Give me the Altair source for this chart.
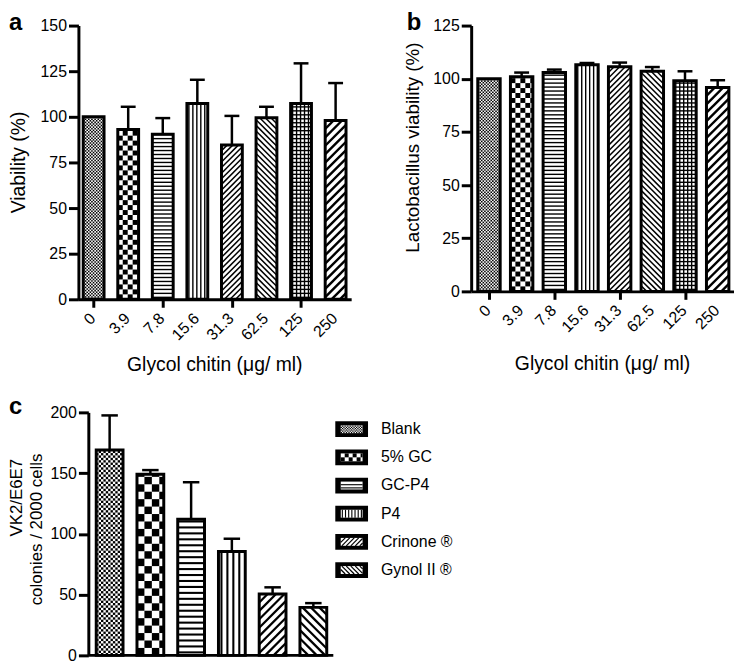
import math
import altair as alt
import pandas as pd
import numpy as np

# ---------------- data ----------------
conc_labels = ["0", "3.9", "7.8", "15.6", "31.3", "62.5", "125", "250"]
viab_mean = [100, 93, 90.5, 107.3, 84.5, 99.5, 107.3, 98]
viab_err = [0, 12.5, 8.8, 13, 16, 6, 22, 20.5]
lacto_mean = [100, 100.9, 102.9, 106.6, 105.6, 103.5, 99, 95.9]
lacto_err = [0, 2.0, 1.4, 0.8, 2.0, 2.0, 4.5, 3.4]
form_labels = ["Blank", "5% GC", "GC-P4", "P4", "Crinone \u00ae", "Gynol II \u00ae"]
colony_mean = [169, 149, 112, 85.5, 50.5, 39.5]
colony_err = [28.5, 3.5, 30.5, 10.5, 5.5, 3.5]

kinds_ab = ["fine", "checker", "hlines", "vlines", "diag_up", "diag_down", "grid", "diag_wide"]
kinds_c = ["fine", "checker", "hlines", "vlines", "diag_up", "diag_down"]

FONT = "Liberation Sans"
LABEL_SIZE = 16


def pattern(kind, xc, yb, yt, halfw, sx, sy, s=1.0):
    """Hatching of a bar rectangle centred at xc, returned in data units."""
    X0, X1 = -halfw, halfw
    H = (yt - yb) * sy
    segs, cells = [], []

    def seg(xa, ya, xb, yb_, w):
        segs.append(dict(x=xc + xa / sx, y=yb + ya / sy, x2=xc + xb / sx, y2=yb + yb_ / sy, w=w))

    def cell(xa, xb, ya, yb_):
        cells.append(dict(x=xc + xa / sx, x2=xc + xb / sx, y=yb + ya / sy, y2=yb + yb_ / sy))

    if kind in ("fine", "checker"):
        cs = (1.6 if kind == "fine" else 5.0) * s
        nx = int(math.ceil((X1 - X0) / cs))
        ny = int(math.ceil(H / cs))
        for i in range(nx):
            for j in range(ny):
                if (i + j) % 2 == 0:
                    cell(X0 + i * cs, min(X0 + (i + 1) * cs, X1), j * cs, min((j + 1) * cs, H))
    if kind in ("hlines", "grid"):
        p = 4.0 * s
        for yy in np.arange(p / 2, H, p):
            seg(X0, yy, X1, yy, 1.4 * s)
    if kind in ("vlines", "grid"):
        p = 4.0 * s
        for xx in np.arange(X0 + p / 2, X1, p):
            seg(xx, 0, xx, H, 1.4 * s)
    if kind in ("diag_up", "diag_wide"):
        p = (4.0 if kind == "diag_up" else 6.0) * s
        w = (1.5 if kind == "diag_up" else 2.4) * s
        step = p * math.sqrt(2)
        for c in np.arange(X0 - H, X1, step):
            lo, hi = max(X0, c), min(X1, c + H)
            if lo < hi:
                seg(lo, lo - c, hi, hi - c, w)
    if kind == "diag_down":
        p = 4.0 * s
        step = p * math.sqrt(2)
        for c in np.arange(X0, X1 + H, step):
            lo, hi = max(X0, c - H), min(X1, c)
            if lo < hi:
                seg(lo, c - lo, hi, c - hi, 1.5 * s)
    return segs, cells


def txt(text, x, y, size, angle=0, align="center", baseline="middle", weight="normal"):
    kw = dict(font=FONT, fontSize=size, fontWeight=weight, align=align, baseline=baseline,
              color="black")
    if angle:
        kw["angle"] = angle
    return alt.Chart(pd.DataFrame({"t": [text]})).mark_text(**kw).encode(
        text="t:N", x=alt.value(x), y=alt.value(y))


def panel(means, errs, kinds, labels, W, H, xdom, ymax, ystep, halfw, capw,
          ytitles, xtitle, letter, letter_xy, s=1.0, show_xlabels=True, yoffset=0):
    sx = W / (xdom[1] - xdom[0])
    sy = H / ymax
    bars, segs, cells, errl, caps = [], [], [], [], []
    for i, (m, e, k) in enumerate(zip(means, errs, kinds)):
        bars.append(dict(x=i - halfw / sx, x2=i + halfw / sx, y=0, y2=m))
        sg, cl = pattern(k, i, 0, m, halfw, sx, sy, s)
        segs += sg
        cells += cl
        if e > 0:
            errl.append(dict(x=i, y=m, y2=m + e))
            caps.append(dict(x=i - capw / sx, x2=i + capw / sx, y=m + e))
    xsc = alt.Scale(domain=xdom, nice=False, zero=False)
    ysc = alt.Scale(domain=[0, ymax], nice=False)
    xaxis = alt.Axis(
        values=list(range(len(means))), labels=False, ticks=show_xlabels, tickSize=8,
        tickWidth=3, tickColor="black", domain=(yoffset == 0), domainWidth=3,
        domainColor="black", grid=False, title=None,
    )
    ykw = dict(
        values=list(range(0, ymax + 1, ystep)), labelFontSize=LABEL_SIZE, labelFont=FONT,
        labelColor="black", labelPadding=2, tickSize=10, tickWidth=3,
        tickColor="black", domainWidth=3, domainColor="black", grid=False, title=None,
    )
    if yoffset:
        ykw["offset"] = yoffset
    yaxis = alt.Axis(**ykw)
    bdf = pd.DataFrame(bars)
    base_fill = alt.Chart(bdf).mark_rect(color="white").encode(
        x=alt.X("x:Q", scale=xsc, axis=xaxis), x2="x2:Q",
        y=alt.Y("y:Q", scale=ysc, axis=yaxis), y2="y2:Q")
    layers = [base_fill]
    if yoffset:
        # baseline drawn from the (shifted) y axis to the end of the x range
        bl = pd.DataFrame({"x": [xdom[0] - yoffset / sx], "x2": [xdom[1]], "y": [0]})
        layers.append(alt.Chart(bl).mark_rule(color="black", strokeWidth=3).encode(
            x="x:Q", x2="x2:Q", y="y:Q"))
    if cells:
        layers.append(alt.Chart(pd.DataFrame(cells)).mark_rect(color="black").encode(
            x="x:Q", x2="x2:Q", y="y:Q", y2="y2:Q"))
    if segs:
        layers.append(alt.Chart(pd.DataFrame(segs)).mark_rule(color="black").encode(
            x="x:Q", x2="x2:Q", y="y:Q", y2="y2:Q",
            strokeWidth=alt.StrokeWidth("w:Q", scale=None)))
    layers.append(alt.Chart(bdf).mark_rect(fillOpacity=0, stroke="black", strokeWidth=3).encode(
        x="x:Q", x2="x2:Q", y="y:Q", y2="y2:Q"))
    if errl:
        layers.append(alt.Chart(pd.DataFrame(errl)).mark_rule(color="black", strokeWidth=2.5).encode(
            x="x:Q", y="y:Q", y2="y2:Q"))
        layers.append(alt.Chart(pd.DataFrame(caps)).mark_rule(color="black", strokeWidth=2.5).encode(
            x="x:Q", x2="x2:Q", y="y:Q"))
    if show_xlabels:
        ldf = pd.DataFrame({"i": list(range(len(labels))), "lab": labels})
        layers.append(alt.Chart(ldf).mark_text(
            font=FONT, fontSize=LABEL_SIZE, align="right", baseline="middle", angle=315,
            color="black", dx=-1).encode(x="i:Q", y=alt.value(H + 16), text="lab:N"))
    if xtitle:
        layers.append(txt(xtitle[0], W / 2, H + xtitle[1], xtitle[2]))
    for (t, tx, ty, tsize) in ytitles:
        layers.append(txt(t, tx, ty, tsize, angle=270))
    layers.append(txt(letter, letter_xy[0], letter_xy[1], 24, align="left",
                      baseline="alphabetic", weight="bold"))
    return alt.layer(*layers).properties(width=W, height=H)


GC = "Glycol chitin (\u03bcg/ ml)"
HA, HB, HC = 276, 268, 245
pa = panel(viab_mean, viab_err, kinds_ab, conc_labels, 275, HA, [-0.44, 7.45], 150, 25,
           10.5, 7.5, [("Viability (%)", -59.5, HA / 2, 19.5)], (GC, 66, 19.5), "a", (-70, 4))
pb = panel(lacto_mean, lacto_err, kinds_ab, conc_labels, 265, HB, [-0.545, 7.5], 125, 25,
           11.3, 7.5, [("Lactobacillus viability (%)", -58.5, HB / 2 - 11, 19)],
           (GC, 73, 19.5), "b", (-65, 4))
pc = panel(colony_mean, colony_err, kinds_c, form_labels, 257, HC, [-0.766, 5.49], 200, 50,
           13.5, 8.3, [("VK2/E6E7", -61.5, 86, 17), ("colonies / 2000 cells", -41.5, 118, 17)],
           None, "c", (-70, 2), s=1.5, show_xlabels=False, yoffset=-10)

# ---------------- legend panel ----------------
LW, ROW = 33, 28.4
ldom = [-0.097, 6.3]
LH = (ldom[1] - ldom[0]) * ROW
lsx, lsy = LW / 1.0, LH / (ldom[1] - ldom[0])
INW = 11.0
sw, inner, lsegs, lcells, ltext = [], [], [], [], []
for i, k in enumerate(kinds_c):
    sw.append(dict(x=0, x2=1, y=i + 0.78, y2=i + 0.22))
    inner.append(dict(x=0.5 - INW / lsx, x2=0.5 + INW / lsx, y=i + 0.22 + 0.14, y2=i + 0.78 - 0.14))
    ltext.append(dict(y=i + 0.5, lab=form_labels[i]))
    # pattern computed in an upward coordinate, then flipped into the reversed axis
    yb = (ldom[1] - (i + 0.78)) + 0.14
    yt = (ldom[1] - (i + 0.22)) - 0.14
    sg, cl = pattern(k, 0.5, yb, yt, INW, lsx, lsy, 0.8)
    for d in sg + cl:
        d["y"] = ldom[1] - d["y"]
        d["y2"] = ldom[1] - d["y2"]
    lsegs += sg
    lcells += cl

lxs = alt.Scale(domain=[0, 1], nice=False, zero=False)
lys = alt.Scale(domain=ldom, nice=False, zero=False, reverse=True)
leg = alt.layer(
    alt.Chart(pd.DataFrame(sw)).mark_rect(color="black").encode(
        x=alt.X("x:Q", scale=lxs, axis=None), x2="x2:Q",
        y=alt.Y("y:Q", scale=lys, axis=None), y2="y2:Q"),
    alt.Chart(pd.DataFrame(inner)).mark_rect(color="white").encode(
        x="x:Q", x2="x2:Q", y="y:Q", y2="y2:Q"),
    alt.Chart(pd.DataFrame(lcells)).mark_rect(color="black").encode(
        x="x:Q", x2="x2:Q", y="y:Q", y2="y2:Q"),
    alt.Chart(pd.DataFrame(lsegs)).mark_rule(color="black").encode(
        x="x:Q", x2="x2:Q", y="y:Q", y2="y2:Q",
        strokeWidth=alt.StrokeWidth("w:Q", scale=None)),
    alt.Chart(pd.DataFrame(ltext)).mark_text(
        font=FONT, fontSize=LABEL_SIZE, align="left", baseline="middle", color="black").encode(
        x=alt.value(LW + 13), y="y:Q", text="lab:N"),
).properties(width=LW, height=LH)

top = alt.hconcat(pa, pb, spacing=53)
bottom = alt.hconcat(pc, leg, spacing=0)
chart = alt.vconcat(top, bottom, spacing=21).properties(
    padding={"left": 0, "top": 0, "right": 0, "bottom": 0}
).configure_view(stroke=None)

chart.save("out.html", embed_options={"renderer": "svg", "actions": False})
